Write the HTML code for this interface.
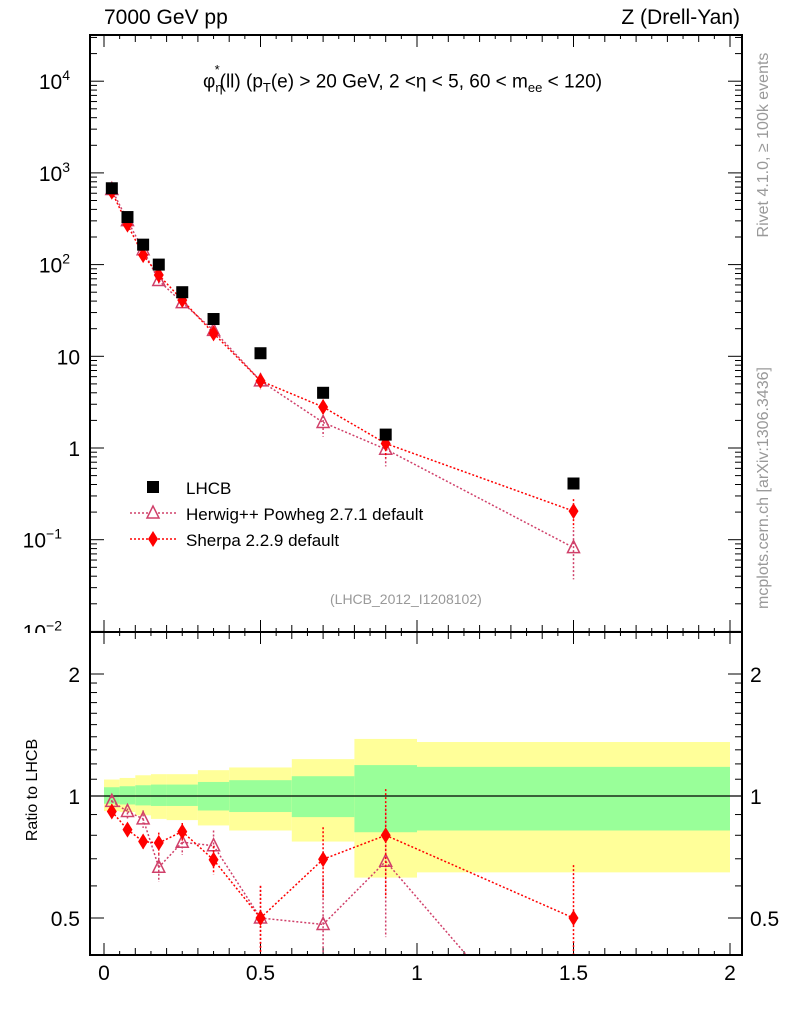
<!DOCTYPE html>
<html><head><meta charset="utf-8"><style>
html,body{margin:0;background:#fff;overflow:hidden;width:786px;height:1024px}
svg{display:block;font-family:"Liberation Sans",sans-serif}
</style></head><body>
<svg id="c" width="786" height="1024" viewBox="0 0 786 1024"></svg>
<script>
const xCenters=[0.025,0.075,0.125,0.175,0.25,0.35,0.5,0.7,0.9,1.5];
const lhcb=[680,330,165,100,50,25.5,10.8,4.0,1.4,0.41];
const herwig=[660,302,145,67,38.5,19.2,5.4,1.9,0.97,0.082];
const herwigErr=[0.03,0.04,0.05,0.08,0.07,0.09,0.2,0.3,0.35,0.55];
const sherpa=[623,273,127,77,41,17.8,5.4,2.8,1.12,0.205];
const sherpaErr=[0.02,0.03,0.04,0.06,0.05,0.08,0.2,0.2,0.3,0.35];
const herwigRatio=[0.97,0.916,0.878,0.667,0.769,0.754,0.50,0.482,0.69,0.2];
const sherpaRatio=[0.916,0.826,0.772,0.766,0.817,0.696,0.50,0.698,0.80,0.50];
const binEdges=[0,0.05,0.1,0.15,0.2,0.3,0.4,0.6,0.8,1.0,2.0];
const yellowHi=[1.098,1.108,1.125,1.132,1.132,1.158,1.176,1.233,1.383,1.359];
const greenHi=[1.051,1.057,1.063,1.067,1.067,1.083,1.094,1.119,1.192,1.18];
const greenLo=[0.957,0.953,0.948,0.945,0.945,0.921,0.913,0.887,0.814,0.822];
const yellowLo=[0.918,0.913,0.896,0.878,0.872,0.846,0.822,0.772,0.629,0.648];
const xTicks=[0,0.5,1,1.5,2];

const svg=document.getElementById('c');const NS='http://www.w3.org/2000/svg';
function el(t,a,p){const e=document.createElementNS(NS,t);for(const k in a)e.setAttribute(k,a[k]);(p||svg).appendChild(e);return e;}
const L=90,R=742,T=35,MB=632,RB=955;
const X=v=>104+v*313;
const Y=v=>448-91.7*Math.log10(v);
const YR=r=>796-122*Math.log2(r);
function clipY(y,a,b){return Math.max(a,Math.min(b,y));}

for(let i=0;i<yellowHi.length;i++){
 const x0=X(binEdges[i]),x1=X(binEdges[i+1]);
 let r=el('rect',{x:x0,y:clipY(YR(yellowHi[i]),MB,RB),width:x1-x0,height:YR(yellowLo[i])-YR(yellowHi[i]),fill:'#ffff99'});
 
 r=el('rect',{x:x0,y:YR(greenHi[i]),width:x1-x0,height:YR(greenLo[i])-YR(greenHi[i]),fill:'#99ff99'});
 
}
el('line',{x1:L,x2:R,y1:YR(1),y2:YR(1),stroke:'#000','stroke-width':1.2});

for(let k=0;k<=40;k++){const v=k*0.05;const x=X(v);if(x>R)break;const maj=k%10==0;const len=maj?12:(k%2==0?7:4);
 for(const [yb,dir] of [[T,1],[MB,-1],[MB,1],[RB,-1]]) el('line',{x1:x,x2:x,y1:yb,y2:yb+dir*len,stroke:'#000','stroke-width':1});}
xTicks.forEach(v=>{const t=el('text',{x:X(v),y:980,'font-size':21,'text-anchor':'middle'});t.textContent=String(v);
 });

for(let d=-2;d<=4;d++){for(let m=1;m<=9;m++){const v=m*Math.pow(10,d);const y=Y(v);if(y<T||y>MB)continue;const len=m==1?14:7;
 el('line',{x1:L,x2:L+len,y1:y,y2:y,stroke:'#000'});el('line',{x1:R,x2:R-len,y1:y,y2:y,stroke:'#000'});}}
const yLab=[[4,'10','4'],[3,'10','3'],[2,'10','2'],[1,'10',''],[0,'1',''],[-1,'10','−1'],[-2,'10','−2']];
yLab.forEach(([d,b,e])=>{const y=Y(Math.pow(10,d))+8;const t=el('text',{x:80,y:y,'font-size':21,'text-anchor':'end'});
 t.textContent=b;if(e){t.setAttribute('x',e.length>1?62:70);const s=el('tspan',{dy:-9,'font-size':14},t);s.textContent=e;}
 });
el('rect',{x:20,y:633,width:68,height:12,fill:'#fff'});

[0.5,0.6,0.7,0.8,0.9,1,1.1,1.2,1.3,1.4,1.5,1.6,1.7,1.8,1.9,2].forEach(r=>{const y=YR(r);const len=(r==1||r==2||r==0.5)?14:7;
 el('line',{x1:L,x2:L+len,y1:y,y2:y,stroke:'#000'});el('line',{x1:R,x2:R-len,y1:y,y2:y,stroke:'#000'});});
[[2,'2'],[1,'1'],[0.5,'0.5']].forEach(([r,s])=>{for(const [x,a] of [[80,'end'],[750,'start']]){const t=el('text',{x:x,y:YR(r)+8,'font-size':21,'text-anchor':a});t.textContent=s;
 }});

function series(vals,errs,yf,color,marker,name,ylo,yhi){
 const g=el('g',{});
 const pts=vals.map((v,i)=>[X(xCenters[i]),yf(v)]);
 for(let i=0;i<pts.length-1;i++){
  let [x1,y1]=pts[i],[x2,y2]=pts[i+1];
  if((y1<ylo&&y2<ylo)||(y1>yhi&&y2>yhi))continue;
  const cut=(xa,ya,xb,yb)=>{let yc=clipY(ya,ylo,yhi);if(yc===ya)return [xa,ya];return [xa+(xb-xa)*(yc-ya)/(yb-ya),yc];};
  const a=cut(x1,y1,x2,y2),b=cut(x2,y2,x1,y1);
  el('line',{x1:a[0],y1:a[1],x2:b[0],y2:b[1],stroke:color,'stroke-width':1.5,'stroke-dasharray':'2,2'},g);
 }
 vals.forEach((v,i)=>{const x=X(xCenters[i]);
  const e=errs[i];const y1=clipY(yf(v*(1+e)),ylo,yhi),y2=clipY(yf(Math.max(v*(1-e),1e-9)),ylo,yhi);
  el('line',{x1:x,x2:x,y1:y1,y2:y2,stroke:color,'stroke-width':1.5,'stroke-dasharray':'2,2'},g);
  const y=yf(v);if(y<ylo||y>yhi)return;
  if(marker=='tri')el('polygon',{points:`${x},${y-7} ${x-6},${y+5} ${x+6},${y+5}`,fill:'none',stroke:color,'stroke-width':1.5},g);
  else el('polygon',{points:`${x},${y-8} ${x+5},${y} ${x},${y+8} ${x-5},${y}`,fill:color},g);});
}
series(herwig,herwigErr,Y,'#d0406a','tri','herwig-series',T,MB);
series(sherpa,sherpaErr,Y,'#ff0000','dia','sherpa-series',T,MB);
const gd=el('g',{});
lhcb.forEach((v,i)=>{el('rect',{x:X(xCenters[i])-6,y:Y(v)-6,width:12,height:12,fill:'#000'},gd);});
series(herwigRatio,herwigErr,YR,'#d0406a','tri','herwig-ratio',MB,RB);
series(sherpaRatio,sherpaErr,YR,'#ff0000','dia','sherpa-ratio',MB,RB);

let f=el('rect',{x:L,y:T,width:R-L,height:MB-T,fill:'none',stroke:'#000','stroke-width':2});

f=el('rect',{x:L,y:MB,width:R-L,height:RB-MB,fill:'none',stroke:'#000','stroke-width':2});


const lg=el('g',{});
el('rect',{x:147,y:481,width:12,height:12,fill:'#000'},lg);
el('line',{x1:130,x2:176,y1:513,y2:513,stroke:'#d0406a','stroke-width':1.5,'stroke-dasharray':'2,2'},lg);
el('polygon',{points:'153,506 147,518 159,518',fill:'#fff',stroke:'#d0406a','stroke-width':1.5},lg);
el('line',{x1:130,x2:176,y1:539,y2:539,stroke:'#ff0000','stroke-width':1.5,'stroke-dasharray':'2,2'},lg);
el('polygon',{points:'153,531 158,539 153,547 148,539',fill:'#ff0000'},lg);
[['LHCB',494],['Herwig++ Powheg 2.7.1 default',520],['Sherpa 2.2.9 default',546]].forEach(([s,y])=>{const t=el('text',{x:186,y:y,'font-size':17},lg);t.textContent=s;
 });

[['Rivet 4.1.0, ≥ 100k events',768,145,'#999','rivet-label'],['mcplots.cern.ch [arXiv:1306.3436]',768,488,'#999','mcplots-label'],['Ratio to LHCB',37,790,'#000','y-axis-title']].forEach(([s,x,y,c,n])=>{
 const t=el('text',{x:x,y:y,'font-size':16,fill:c,'text-anchor':'middle',transform:`rotate(-90 ${x} ${y})`});t.textContent=s;
 });
</script>
<div style="position:absolute;left:0;top:0;width:786px;height:1024px;overflow:hidden;font-family:'Liberation Sans',sans-serif;pointer-events:none">
<div style="position:absolute;left:104px;top:6px;font-size:21px">7000 GeV pp</div>
<div style="position:absolute;right:46px;top:6px;font-size:21px">Z (Drell-Yan)</div>
<div style="position:absolute;left:203px;top:68px;font-size:19px;white-space:nowrap">φ<sub style="font-size:13px">η</sub><sup style="font-size:13px;margin-left:-8px;position:relative;top:-6px">*</sup>(ll) (p<sub style="font-size:13px">T</sub>(e) &gt; 20 GeV, 2 &lt;η &lt; 5, 60 &lt; m<sub style="font-size:13px">ee</sub> &lt; 120)</div>
<div style="position:absolute;left:330px;top:591px;font-size:14px;color:#999">(LHCB_2012_I1208102)</div>
</div>
</body></html>
